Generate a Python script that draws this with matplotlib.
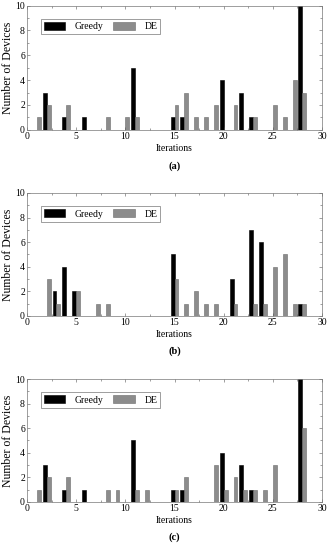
import numpy as np
import matplotlib
matplotlib.use("Agg")
import matplotlib.pyplot as plt
from matplotlib.ticker import MultipleLocator

plt.rcParams['font.family'] = ['Liberation Serif', 'DejaVu Serif']

# panel (a)
greedy_a_x = [2, 4, 6, 11, 15, 16, 20, 22, 23, 28]
greedy_a_y = [3, 1, 1, 5, 1, 1, 4, 3, 1, 10]
de_a_x = [1, 2, 4, 8, 10, 11, 15, 16, 17, 18, 19, 21, 23, 25, 26, 27, 28]
de_a_y = [1, 2, 2, 1, 1, 1, 2, 3, 1, 1, 2, 2, 1, 2, 1, 4, 3]

# panel (b)
greedy_b_x = [3, 4, 5, 15, 21, 23, 24, 28]
greedy_b_y = [2, 4, 2, 5, 3, 7, 6, 1]
de_b_x = [2, 3, 5, 7, 8, 15, 16, 17, 18, 19, 21, 23, 24, 25, 26, 27, 28]
de_b_y = [3, 1, 2, 1, 1, 3, 1, 2, 1, 1, 1, 1, 1, 4, 5, 1, 1]

# panel (c)
greedy_c_x = [2, 4, 6, 11, 15, 16, 20, 22, 23, 28]
greedy_c_y = [3, 1, 1, 5, 1, 1, 4, 3, 1, 10]
de_c_x = [1, 2, 4, 8, 9, 11, 12, 15, 16, 19, 20, 21, 22, 23, 24, 25, 28]
de_c_y = [1, 2, 2, 1, 1, 1, 1, 1, 2, 3, 1, 2, 1, 1, 1, 3, 6]

panels = [
    ("(a)", greedy_a_x, greedy_a_y, de_a_x, de_a_y),
    ("(b)", greedy_b_x, greedy_b_y, de_b_x, de_b_y),
    ("(c)", greedy_c_x, greedy_c_y, de_c_x, de_c_y),
]

fig = plt.figure(figsize=(3.29, 5.5), dpi=100)
boxes = [
    [0.082, 0.764, 0.897, 0.226],
    [0.082, 0.4255, 0.897, 0.2236],
    [0.082, 0.0873, 0.897, 0.2236],
]

w = 0.4
for box, (tag, gx, gy, dx, dy) in zip(boxes, panels):
    ax = fig.add_axes(box)
    ax.bar(np.array(gx) - 0.2, gy, width=w, color='black', edgecolor='black',
           linewidth=0.4, label='Greedy')
    ax.bar(np.array(dx) + 0.2, dy, width=w, color='#8c8c8c', edgecolor='#6a6a6a',
           linewidth=0.4, label='DE')
    ax.set_xlim(0, 30)
    ax.set_ylim(0, 10)
    ax.xaxis.set_major_locator(MultipleLocator(5))
    ax.xaxis.set_minor_locator(MultipleLocator(2.5))
    ax.yaxis.set_major_locator(MultipleLocator(2))
    ax.yaxis.set_minor_locator(MultipleLocator(1))
    ax.tick_params(which='both', direction='in', top=True, right=True,
                   labelsize=7, width=0.4, colors='#555555', labelcolor='black')
    ax.tick_params(which='major', length=2.5, pad=1.5)
    ax.tick_params(which='minor', length=1.5)
    for s in ax.spines.values():
        s.set_linewidth(0.5)
        s.set_color('#777777')
    ax.set_xlabel('Iterations', fontsize=7, labelpad=2)
    ax.set_ylabel('Number of Devices', fontsize=8.5, labelpad=1)
    leg = ax.legend(loc='upper left', ncol=2, fontsize=7, frameon=True,
                    fancybox=False, borderpad=0.3, handlelength=2.2,
                    handleheight=0.9, columnspacing=1.0, handletextpad=1.0,
                    bbox_to_anchor=(0.03, 0.93))
    leg.get_frame().set_edgecolor('#555555')
    leg.get_frame().set_linewidth(0.5)
    ax.text(0.5, -0.29, tag, transform=ax.transAxes, ha='center', va='center',
            fontsize=7.5, fontweight='bold')

fig.savefig('out.png', dpi=100)
